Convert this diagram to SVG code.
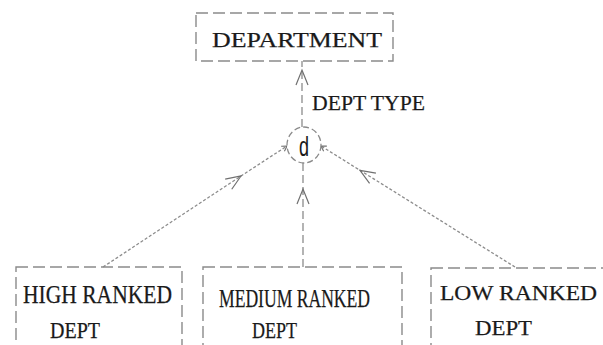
<svg xmlns="http://www.w3.org/2000/svg" width="603" height="345" viewBox="0 0 603 345">
<style>
.box{fill:none;stroke:#8a8a8a;stroke-width:1.4;stroke-dasharray:12 5}
.lbl{font-family:"Liberation Serif","Times New Roman",serif;fill:#1a1a1a;stroke:#1a1a1a;stroke-width:0.25}
.con{fill:none;stroke:#8c8c8c;stroke-width:1.3}
.fine{stroke-dasharray:3 2}
.med{stroke-dasharray:8 4}
</style>
<defs>
<marker id="chev" markerUnits="userSpaceOnUse" markerWidth="20" markerHeight="16" viewBox="-17 -8 20 16" refX="0" refY="0" orient="auto">
<path d="M-15,-6 L0,0 L-15,6" fill="none" stroke="#707070" stroke-width="1.2"/>
</marker>
<marker id="tick" markerUnits="userSpaceOnUse" markerWidth="10" markerHeight="10" viewBox="-7 -5 10 10" refX="0" refY="0" orient="auto">
<path d="M-5,-3 L0,0 L-5,3" fill="none" stroke="#707070" stroke-width="1.1"/>
</marker>
</defs>

<g id="connectors">
<path class="con med" d="M302,127 L302,70 L302,61" marker-mid="url(#chev)"/>
<path class="con med" d="M303,267 L303,189 L303,163" marker-mid="url(#chev)"/>
<path class="con fine" d="M103,267 L241,176 L287,146" marker-mid="url(#chev)" marker-end="url(#tick)"/>
<path class="con fine" d="M515,267 L360,170.3 L321,146" marker-mid="url(#chev)" marker-end="url(#tick)"/>
</g>

<g id="department">
<rect class="box" x="196" y="13" width="197" height="48"/>
<text class="lbl" x="212" y="47" font-size="22" textLength="170" lengthAdjust="spacingAndGlyphs">DEPARTMENT</text>
</g>

<g id="dept-type-label">
<text class="lbl" x="312" y="110" font-size="22" textLength="113" lengthAdjust="spacingAndGlyphs">DEPT TYPE</text>
</g>

<g id="disjoint">
<ellipse cx="304" cy="145" rx="17" ry="18" fill="#fff" stroke="#8a8a8a" stroke-width="1.3" stroke-dasharray="6 3"/>
<text x="304" y="156" font-family="Liberation Sans, Arial, sans-serif" font-size="28" fill="#1a1a1a" text-anchor="middle" textLength="10" lengthAdjust="spacingAndGlyphs">d</text>
</g>

<g id="high-ranked">
<rect class="box" x="16" y="267" width="166" height="100"/>
<text class="lbl" x="23" y="303" font-size="25" textLength="149" lengthAdjust="spacingAndGlyphs">HIGH RANKED</text>
<text class="lbl" x="50" y="338" font-size="23" textLength="50" lengthAdjust="spacingAndGlyphs">DEPT</text>
</g>

<g id="medium-ranked">
<rect class="box" x="203" y="267" width="199" height="100"/>
<text class="lbl" x="219" y="307" font-size="26" textLength="151" lengthAdjust="spacingAndGlyphs">MEDIUM RANKED</text>
<text class="lbl" x="252" y="338" font-size="23" textLength="45" lengthAdjust="spacingAndGlyphs">DEPT</text>
</g>

<g id="low-ranked">
<rect class="box" x="431" y="268" width="190" height="100"/>
<text class="lbl" x="440" y="300" font-size="22" textLength="157" lengthAdjust="spacingAndGlyphs">LOW RANKED</text>
<text class="lbl" x="475" y="335" font-size="22" textLength="57" lengthAdjust="spacingAndGlyphs">DEPT</text>
</g>
</svg>
